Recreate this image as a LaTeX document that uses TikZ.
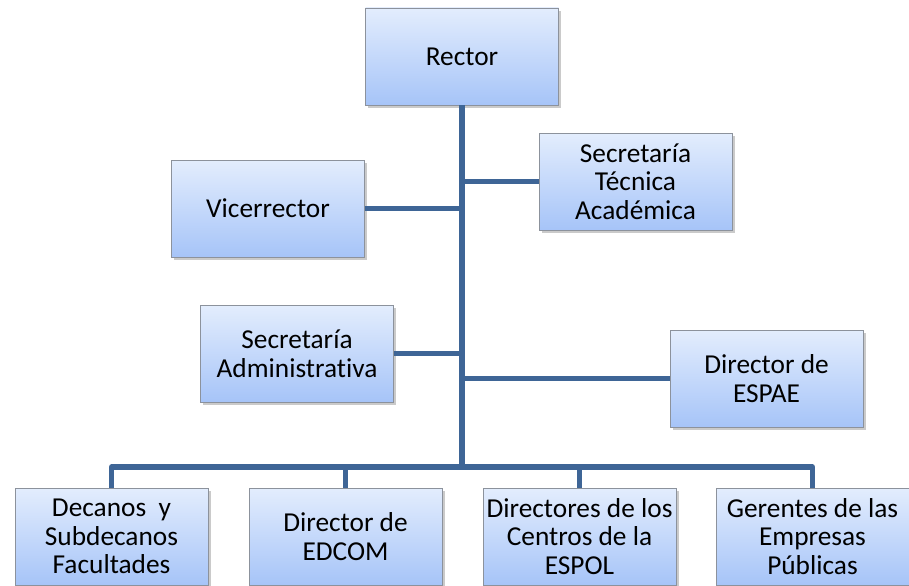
\documentclass[tikz,border=0pt]{standalone}
\usepackage{fontspec}
\setmainfont{Carlito}[Ligatures=NoCommon]
\usetikzlibrary{shadows}
\definecolor{boxtop}{RGB}{227,237,253}
\definecolor{boxbot}{RGB}{166,196,248}
\definecolor{boxline}{RGB}{140,146,156}
\definecolor{linkblue}{RGB}{62,101,150}
\tikzset{every picture/.style={line width=0.75pt}}
\tikzset{
	orgbox/.style={draw=boxline, line width=0.6pt, top color=boxtop, bottom color=boxbot,
		minimum width=144.75pt, minimum height=72.75pt, inner sep=2pt, align=center,
		font=\fontsize{20.5}{21.5}\selectfont,
		drop shadow={shadow xshift=2pt, shadow yshift=-2pt, opacity=0.35, fill=black!60}},
	link/.style={draw=linkblue, line width=3.8pt}}

\begin{document}
\begin{tikzpicture}[x=0.75pt,y=0.75pt,yscale=-1,xscale=1]
	\clip (0,0) rectangle (909,585);

	%Shape: Rectangle [id:rector]
	\node [orgbox] (rector) at (462,56.5) {Rector};
	%Shape: Rectangle [id:tecnica]
	\node [orgbox] (tecnica) at (635.5,181.5) {Secretaría\\Técnica\\Académica};
	%Shape: Rectangle [id:vice]
	\node [orgbox] (vice) at (268,208.5) {Vicerrector};
	%Shape: Rectangle [id:admin]
	\node [orgbox] (admin) at (297,353.5) {Secretaría\\Administrativa};
	%Shape: Rectangle [id:espae]
	\node [orgbox] (espae) at (766.5,378.5) {Director de\\ESPAE};
	%Shape: Rectangle [id:decanos]
	\node [orgbox] (decanos) at (111.5,536.5) {Decanos~ y\\Subdecanos\\Facultades};
	%Shape: Rectangle [id:edcom]
	\node [orgbox] (edcom) at (345.5,536.5) {Director de\\EDCOM};
	%Shape: Rectangle [id:centros]
	\node [orgbox] (centros) at (579.5,536.5) {Directores de los\\Centros de la\\ESPOL};
	%Shape: Rectangle [id:gerentes]
	\node [orgbox] (gerentes) at (812.5,536.5) {Gerentes de las\\Empresas\\Públicas};

	\coordinate (bar) at (462,467);

	%Straight Lines
	\draw [link] (rector.south) -- (bar);
	\draw [link] (tecnica.west) -- (tecnica.west -| rector.south);
	\draw [link] (vice.east) -- (vice.east -| rector.south);
	\draw [link] (admin.east) -- (admin.east -| rector.south);
	\draw [link] (espae.west) -- (espae.west -| rector.south);
	\draw [link, line join=round] (decanos.north) |- (bar) -| (gerentes.north);
	\draw [link] (edcom.north) -- (edcom.north |- bar);
	\draw [link] (centros.north) -- (centros.north |- bar);

\end{tikzpicture}
\end{document}
